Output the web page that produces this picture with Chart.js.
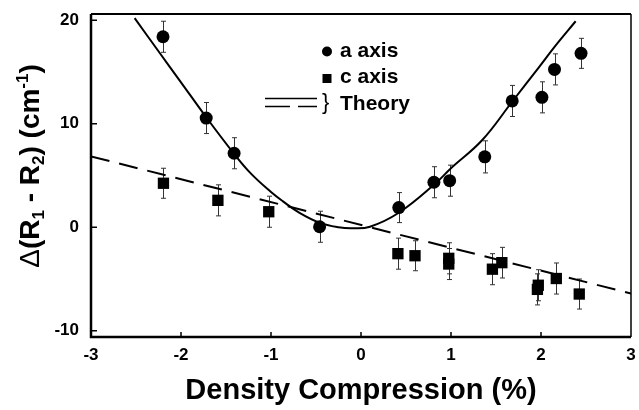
<!DOCTYPE html>
<html>
<head>
<meta charset="utf-8">
<script src="https://cdn.jsdelivr.net/npm/chart.js@4.4.0/dist/chart.umd.min.js"></script>
<style>
  html, body { margin: 0; padding: 0; background: #fff; }
</style>
</head>
<body>
<canvas id="chart" width="639" height="410"></canvas>
<script>
// axis ticks
const xTicks = [-3, -2, -1, 0, 1, 2, 3];
const yTicks = [-10, 0, 10, 20];

// a axis measurements
const aX = [-2.2, -1.72, -1.41, -0.46, 0.42, 0.81, 0.985, 1.375, 1.68, 2.01, 2.15, 2.445];
const aY = [18.4, 10.55, 7.15, 0.05, 1.9, 4.35, 4.5, 6.8, 12.2, 12.55, 15.25, 16.8];
const aErr = [1.5, 1.5, 1.5, 1.5, 1.45, 1.5, 1.5, 1.55, 1.5, 1.5, 1.5, 1.45];

// c axis measurements
const cX = [-2.195, -1.59, -1.025, 0.41, 0.6, 0.975, 0.975, 1.46, 1.565, 1.96, 1.97, 2.17, 2.425];
const cY = [4.25, 2.6, 1.5, -2.55, -2.75, -3.0, -3.55, -4.05, -3.42, -6.0, -5.6, -4.95, -6.45];
const cErr = [1.45, 1.5, 1.5, 1.5, 1.45, 1.5, 1.5, 1.5, 1.48, 1.5, 1.5, 1.5, 1.45];

// theory curves
const theoryAX = [-2.515, -2.25, -2.0, -1.726, -1.42, -1.236, -1.0, -0.867, -0.683, -0.461, -0.25, -0.1, 0.1, 0.42, 0.81, 1.0, 1.345, 1.677, 1.972, 2.157, 2.385];
const theoryAY = [20.2, 17.0, 14.0, 10.7, 7.2, 5.3, 3.4, 2.5, 1.4, 0.45, 0.0, -0.1, 0.05, 1.4, 4.1, 5.7, 8.4, 12.1, 15.4, 17.5, 19.9];
const theoryCX = [-3, 3];
const theoryCY = [6.85, -6.4];

const FONT = '"Liberation Sans", Arial, Helvetica, sans-serif';

const toPoints = (xs, ys, errs) => xs.map((x, i) => ({ x: x, y: ys[i], err: errs ? errs[i] : 0 }));

// vertical error bars, drawn under the markers
const errorBars = {
  id: 'errorBars',
  beforeDatasetsDraw(chart) {
    const ctx = chart.ctx;
    const xs = chart.scales.x, ys = chart.scales.y;
    ctx.save();
    ctx.strokeStyle = '#333';
    ctx.lineWidth = 1;
    chart.data.datasets.forEach(ds => {
      if (!ds.withErrors) return;
      ds.data.forEach(p => {
        const px = Math.round(xs.getPixelForValue(p.x)) + 0.5;
        const top = ys.getPixelForValue(p.y + p.err);
        const bot = ys.getPixelForValue(p.y - p.err);
        ctx.beginPath();
        ctx.moveTo(px, top); ctx.lineTo(px, bot);
        ctx.moveTo(px - 2.5, top); ctx.lineTo(px + 2.5, top);
        ctx.moveTo(px - 2.5, bot); ctx.lineTo(px + 2.5, bot);
        ctx.stroke();
      });
    });
    ctx.restore();
  }
};

// box frame + inward ticks
const frame = {
  id: 'frame',
  afterDatasetsDraw(chart) {
    const ctx = chart.ctx;
    const a = chart.chartArea;
    const xs = chart.scales.x, ys = chart.scales.y;
    ctx.save();
    ctx.strokeStyle = '#000';
    ctx.lineWidth = 2.5;
    ctx.beginPath();
    ctx.moveTo(a.left, a.top); ctx.lineTo(a.left, a.bottom); ctx.lineTo(a.right, a.bottom);
    ctx.stroke();
    ctx.lineWidth = 2;
    ctx.beginPath();
    ctx.moveTo(a.left, a.top); ctx.lineTo(a.right, a.top);
    ctx.stroke();
    ctx.lineWidth = 1.5;
    ctx.beginPath();
    ctx.moveTo(a.right, a.top); ctx.lineTo(a.right, a.bottom);
    ctx.stroke();
    ctx.beginPath();
    xTicks.forEach(v => {
      if (v === xs.min || v === xs.max) return;
      const px = xs.getPixelForValue(v);
      ctx.moveTo(px, a.bottom); ctx.lineTo(px, a.bottom - 5);
    });
    yTicks.forEach(v => {
      const py = ys.getPixelForValue(v);
      ctx.moveTo(a.left, py); ctx.lineTo(a.left + 6, py);
    });
    ctx.stroke();
    ctx.restore();
  }
};

function drawRich(ctx, parts, cx, cy) {
  let total = 0;
  parts.forEach(p => { ctx.font = p.font; p.w = ctx.measureText(p.text).width; total += p.w; });
  ctx.save();
  ctx.translate(cx, cy);
  ctx.rotate(-Math.PI / 2);
  ctx.textBaseline = 'alphabetic';
  ctx.fillStyle = '#000';
  let x = -total / 2;
  parts.forEach(p => { ctx.font = p.font; ctx.fillText(p.text, x, p.dy); x += p.w; });
  ctx.restore();
}

// legend and y title
const annotations = {
  id: 'annotations',
  afterDraw(chart) {
    const ctx = chart.ctx;
    ctx.save();
    ctx.fillStyle = '#000';
    ctx.strokeStyle = '#000';
    ctx.font = 'bold 21px ' + FONT;
    ctx.textBaseline = 'alphabetic';

    ctx.beginPath();
    ctx.arc(327, 51.5, 5, 0, Math.PI * 2);
    ctx.fill();
    ctx.fillText('a axis', 340, 57);

    ctx.fillRect(322.5, 74, 9, 9);
    ctx.fillText('c axis', 340, 83);

    ctx.lineWidth = 1.5;
    ctx.beginPath();
    ctx.moveTo(265, 98.5); ctx.lineTo(317, 98.5);
    ctx.moveTo(265, 106.5); ctx.lineTo(290, 106.5);
    ctx.moveTo(298, 106.5); ctx.lineTo(317, 106.5);
    ctx.stroke();
    ctx.font = '22px ' + FONT;
    ctx.fillText('}', 322, 109);
    ctx.font = 'bold 21px ' + FONT;
    ctx.fillText('Theory', 340, 110);
    ctx.restore();

    const big = 'bold 28px ' + FONT;
    const small = 'bold 17px ' + FONT;
    drawRich(ctx, [
      { text: '\u0394', font: '28px ' + FONT, dy: 0 },
      { text: '(R', font: big, dy: 0 },
      { text: '1', font: small, dy: 5 },
      { text: ' - R', font: big, dy: 0 },
      { text: '2', font: small, dy: 5 },
      { text: ') (cm', font: big, dy: 0 },
      { text: '-1', font: small, dy: -11 },
      { text: ')', font: big, dy: 0 }
    ], 39, 166);
  }
};

Chart.defaults.font.family = FONT;
Chart.defaults.color = '#000';

const ctx = document.getElementById('chart');

new Chart(ctx, {
  type: 'scatter',
  data: {
    datasets: [
      {
        label: 'Theory a',
        data: toPoints(theoryAX, theoryAY),
        showLine: true,
        borderColor: '#000',
        borderWidth: 2,
        pointRadius: 0,
        tension: 0.4
      },
      {
        label: 'Theory c',
        data: toPoints(theoryCX, theoryCY),
        showLine: true,
        borderColor: '#000',
        borderWidth: 2,
        borderDash: [19, 10],
        pointRadius: 0
      },
      {
        label: 'a axis',
        data: toPoints(aX, aY, aErr),
        withErrors: true,
        pointStyle: 'circle',
        pointRadius: 6.5,
        backgroundColor: '#000',
        borderColor: '#000',
        borderWidth: 0
      },
      {
        label: 'c axis',
        data: toPoints(cX, cY, cErr),
        withErrors: true,
        pointStyle: 'rect',
        pointRadius: 8,
        backgroundColor: '#000',
        borderColor: '#000',
        borderWidth: 0
      }
    ]
  },
  options: {
    responsive: false,
    animation: false,
    layout: { padding: { top: 14, right: 6, left: 0, bottom: 0 } },
    plugins: {
      legend: { display: false },
      tooltip: { enabled: false }
    },
    scales: {
      x: {
        type: 'linear',
        min: -3,
        max: 3,
        afterBuildTicks: (scale) => { scale.ticks = xTicks.map(v => ({ value: v })); },
        afterFit: (scale) => {
          scale.height = 73;
          scale.paddingLeft = 0;
          scale.paddingRight = 0;
        },
        grid: { display: false, drawTicks: false },
        border: { display: false },
        ticks: {
          padding: 8,
          font: { size: 17, weight: 'bold' },
          color: '#000'
        },
        title: {
          display: true,
          text: 'Density Compression (%)',
          font: { size: 29, weight: 'bold' },
          color: '#000',
          padding: { top: 0, bottom: 2 }
        }
      },
      y: {
        type: 'linear',
        min: -10.6,
        max: 20.6,
        afterBuildTicks: (scale) => { scale.ticks = yTicks.map(v => ({ value: v })); },
        afterFit: (scale) => {
          scale.width = 91;
          scale.paddingTop = 0;
          scale.paddingBottom = 0;
        },
        grid: { display: false, drawTicks: false },
        border: { display: false },
        ticks: {
          padding: 12,
          font: { size: 17, weight: 'bold' },
          color: '#000'
        }
      }
    }
  },
  plugins: [errorBars, frame, annotations]
});
</script>
</body>
</html>
